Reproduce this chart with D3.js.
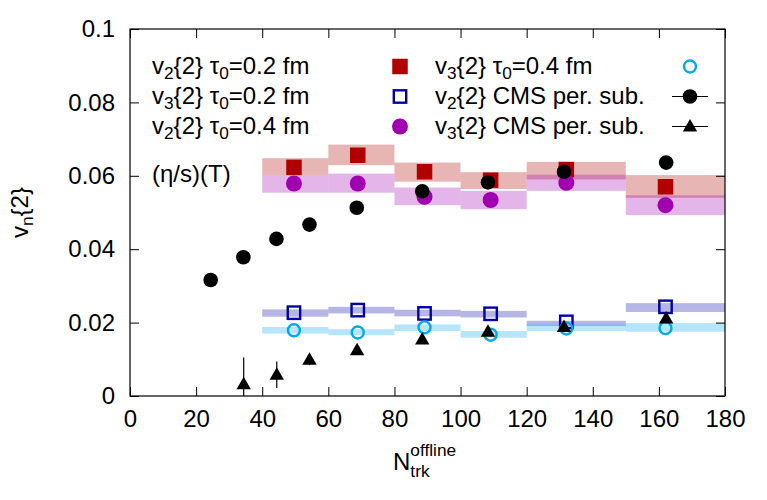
<!DOCTYPE html>
<html>
<head>
<meta charset="utf-8">
<script src="https://cdn.jsdelivr.net/npm/d3@7"></script>
<style>
  body { margin: 0; background: #fff; }
  text { font-family: "Liberation Sans", Helvetica, Arial, sans-serif; fill: #000; }
</style>
</head>
<body>
<div id="chart"></div>
<script>
// bins used for the (eta/s)(T) bands
var binLo = [40, 60, 80, 100, 120, 150];
var binHi = [60, 80, 100, 120, 150, 180];
// mean multiplicity of each bin (x of the model points)
var binX = [49.6, 68.9, 89.1, 109.1, 132, 162];

// model points
var v2tau02 = [0.0623, 0.0656, 0.0611, 0.0588, 0.0617, 0.0570];
var v3tau02 = [0.0227, 0.0234, 0.0225, 0.0224, 0.0202, 0.0243];
var v2tau04 = [0.0579, 0.0579, 0.0543, 0.0534, 0.0581, 0.0520];
var v3tau04 = [0.0179, 0.0173, 0.0187, 0.0167, 0.0184, 0.0185];

// (eta/s)(T) bands: centre and half height
var bandV2a = [0.0625, 0.0657, 0.0610, 0.0587, 0.0614, 0.0571];
var bandV2aErr = [0.0023, 0.0028, 0.0026, 0.0023, 0.0024, 0.0031];
var bandV2b = [0.0578, 0.0580, 0.0544, 0.0534, 0.0581, 0.0520];
var bandV2bErr = [0.0024, 0.0026, 0.0024, 0.0025, 0.0022, 0.0027];
var bandV3a = [0.0226, 0.0234, 0.0226, 0.0223, 0.0198, 0.0241];
var bandV3aErr = [0.0010, 0.0009, 0.0009, 0.0009, 0.0007, 0.0012];
var bandV3b = [0.0179, 0.0174, 0.0186, 0.0168, 0.0186, 0.0187];
var bandV3bErr = [0.0009, 0.0008, 0.0009, 0.0009, 0.0009, 0.0012];

// CMS data
var cmsV2x = [24.4, 34.3, 44.3, 54.3, 68.6, 88.4, 108.3, 131.3, 162.2];
var cmsV2 = [0.0316, 0.0378, 0.0428, 0.0467, 0.0513, 0.0558, 0.0582, 0.0611, 0.0636];
var cmsV2Err = [0.0008, 0.0008, 0.0008, 0.0008, 0.0008, 0.0008, 0.0008, 0.0008, 0.0008];
var cmsV3x = [34.4, 44.4, 54.3, 68.7, 88.4, 108.3, 131.3, 162.2];
var cmsV3 = [0.0032, 0.0058, 0.0099, 0.0125, 0.0154, 0.0175, 0.0188, 0.0211];
var cmsV3Err = [0.0073, 0.0036, 0.0015, 0.0010, 0.0010, 0.0010, 0.0010, 0.0010];

var xTicks = d3.range(0, 181, 20);
var yTicks = [0, 0.02, 0.04, 0.06, 0.08, 0.1];

var W = 767, H = 500;
var margin = { top: 29, right: 42, bottom: 104, left: 130 };
var fs = 24;

var x = d3.scaleLinear().domain([0, 180]).range([margin.left, W - margin.right]);
var y = d3.scaleLinear().domain([0, 0.1]).range([H - margin.bottom, margin.top]);

var svg = d3.select("#chart").append("svg")
    .attr("width", W)
    .attr("height", H);

svg.append("defs").append("clipPath").attr("id", "clip")
  .append("rect")
    .attr("x", x(0)).attr("y", y(0.1))
    .attr("width", x(180) - x(0)).attr("height", y(0) - y(0.1));

// rich text with sub/superscripts
function rich(t, parts, size) {
  var off = 0;
  parts.forEach(p => {
    var target = p.sub ? size * 0.22 : p.sup ? -size * 0.42 : 0;
    t.append("tspan")
      .attr("dy", target - off)
      .attr("font-size", (p.sub || p.sup) ? size * 0.72 : size)
      .text(p.t);
    off = target;
  });
}

var plot = svg.append("g").attr("clip-path", "url(#clip)");

// bands
function bands(c, e, color) {
  plot.append("g").selectAll("rect")
    .data(binLo.map((lo, i) => ({ lo: lo, hi: binHi[i], c: c[i], e: e[i] })))
    .enter().append("rect")
      .attr("x", d => x(d.lo))
      .attr("width", d => x(d.hi) - x(d.lo))
      .attr("y", d => y(d.c + d.e))
      .attr("height", d => y(d.c - d.e) - y(d.c + d.e))
      .attr("fill", color)
      .attr("fill-opacity", 0.29);
}
bands(bandV2a, bandV2aErr, "#b00000");
bands(bandV2b, bandV2bErr, "#a000b0");
bands(bandV3a, bandV3aErr, "#0000a8");
bands(bandV3b, bandV3bErr, "#00a8f8");

var sq = 15.5, r = 8;
var sym = {
  red: g => g.append("rect").attr("x", -sq / 2).attr("y", -sq / 2).attr("width", sq).attr("height", sq).attr("fill", "#b00000"),
  blue: g => g.append("rect").attr("x", -6.2).attr("y", -6.2).attr("width", 12.4).attr("height", 12.4).attr("fill", "none").attr("stroke", "#0000a8").attr("stroke-width", 2.4),
  purple: g => g.append("circle").attr("r", r).attr("fill", "#a000b0"),
  cyan: g => g.append("circle").attr("r", 6).attr("fill", "none").attr("stroke", "#00a8f0").attr("stroke-width", 2.4),
  dot: g => g.append("circle").attr("r", 7.3).attr("fill", "#000"),
  tri: g => g.append("path").attr("d", "M0,-7.5L7.2,5L-7.2,5Z").attr("fill", "#000")
};

function points(xs, ys, kind) {
  xs.forEach((xv, i) => {
    var g = plot.append("g").attr("transform", `translate(${x(xv)},${y(ys[i])})`);
    sym[kind](g);
  });
}
points(binX, v2tau02, "red");
points(binX, v2tau04, "purple");
points(binX, v3tau02, "blue");
points(binX, v3tau04, "cyan");

function errPoints(xs, ys, es, kind) {
  plot.append("g").selectAll("line")
    .data(xs.map((xv, i) => ({ x: xv, y: ys[i], e: es[i] })))
    .enter().append("line")
      .attr("x1", d => x(d.x)).attr("x2", d => x(d.x))
      .attr("y1", d => y(d.y - d.e)).attr("y2", d => y(d.y + d.e))
      .attr("stroke", "#000").attr("stroke-width", 1.2);
  points(xs, ys, kind);
}
errPoints(cmsV2x, cmsV2, cmsV2Err, "dot");
errPoints(cmsV3x, cmsV3, cmsV3Err, "tri");

// axes, ticks pointing inward on all four sides
svg.append("g")
    .attr("transform", `translate(0,${y(0)})`)
    .call(d3.axisBottom(x).tickValues(xTicks).tickSize(-9).tickPadding(14).tickFormat(d3.format("d")))
    .call(g => g.select(".domain").remove());
svg.append("g")
    .attr("transform", `translate(0,${y(0.1)})`)
    .call(d3.axisTop(x).tickValues(xTicks).tickSize(-9).tickFormat(""))
    .call(g => g.select(".domain").remove());
svg.append("g")
    .attr("transform", `translate(${x(0)},0)`)
    .call(d3.axisLeft(y).tickValues(yTicks).tickSize(-9).tickPadding(15).tickFormat(d => d === 0 ? "0" : d3.format("")(+d.toFixed(2))))
    .call(g => g.select(".domain").remove());
svg.append("g")
    .attr("transform", `translate(${x(180)},0)`)
    .call(d3.axisRight(y).tickValues(yTicks).tickSize(-9).tickFormat(""))
    .call(g => g.select(".domain").remove());

svg.selectAll(".tick text").attr("font-size", fs).attr("font-family", "Liberation Sans, Arial, sans-serif");
svg.selectAll(".tick line").attr("stroke", "#000");

svg.append("rect")
    .attr("x", x(0)).attr("y", y(0.1))
    .attr("width", x(180) - x(0)).attr("height", y(0) - y(0.1))
    .attr("fill", "none").attr("stroke", "#000").attr("stroke-width", 1.2);

// axis titles
var yl = svg.append("text")
    .attr("transform", `translate(28,${(y(0) + y(0.1)) / 2}) rotate(-90)`)
    .attr("text-anchor", "middle")
    .attr("font-size", fs);
rich(yl, [{ t: "v" }, { t: "n", sub: true }, { t: "{2}" }], fs);

// N_trk^offline: sub and sup stacked at the same x
var xl = svg.append("g");
var nT = xl.append("text").attr("x", 393).attr("y", 470).attr("font-size", fs).text("N");
var nw = nT.node().getComputedTextLength();
xl.append("text").attr("x", 393 + nw).attr("y", 477).attr("font-size", fs * 0.72).text("trk");
xl.append("text").attr("x", 393 + nw).attr("y", 456).attr("font-size", fs * 0.72).text("offline");

// legend
var legendRows = [
  { col: 0, row: 0, kind: "red", parts: [{ t: "v" }, { t: "2", sub: true }, { t: "{2} τ" }, { t: "0", sub: true }, { t: "=0.2 fm" }] },
  { col: 0, row: 1, kind: "blue", parts: [{ t: "v" }, { t: "3", sub: true }, { t: "{2} τ" }, { t: "0", sub: true }, { t: "=0.2 fm" }] },
  { col: 0, row: 2, kind: "purple", parts: [{ t: "v" }, { t: "2", sub: true }, { t: "{2} τ" }, { t: "0", sub: true }, { t: "=0.4 fm" }] },
  { col: 1, row: 0, kind: "cyan", parts: [{ t: "v" }, { t: "3", sub: true }, { t: "{2} τ" }, { t: "0", sub: true }, { t: "=0.4 fm" }] },
  { col: 1, row: 1, kind: "dot", parts: [{ t: "v" }, { t: "2", sub: true }, { t: "{2} CMS per. sub." }] },
  { col: 1, row: 2, kind: "tri", parts: [{ t: "v" }, { t: "3", sub: true }, { t: "{2} CMS per. sub." }] }
];
var colText = [152, 435], colSym = [400, 690];
var rowY = [66.5, 96.5, 126.5];

legendRows.forEach(d => {
  var t = svg.append("text").attr("x", colText[d.col]).attr("y", rowY[d.row] + 7).attr("font-size", fs);
  rich(t, d.parts, fs);
  var g = svg.append("g").attr("transform", `translate(${colSym[d.col]},${rowY[d.row]})`);
  if (d.kind === "dot" || d.kind === "tri") {
    g.append("line").attr("x1", -18).attr("x2", 18).attr("stroke", "#000").attr("stroke-width", 1.2);
  }
  sym[d.kind](g);
});

svg.append("text").attr("x", 152).attr("y", 182).attr("font-size", fs).text("(η/s)(T)");
</script>
</body>
</html>
